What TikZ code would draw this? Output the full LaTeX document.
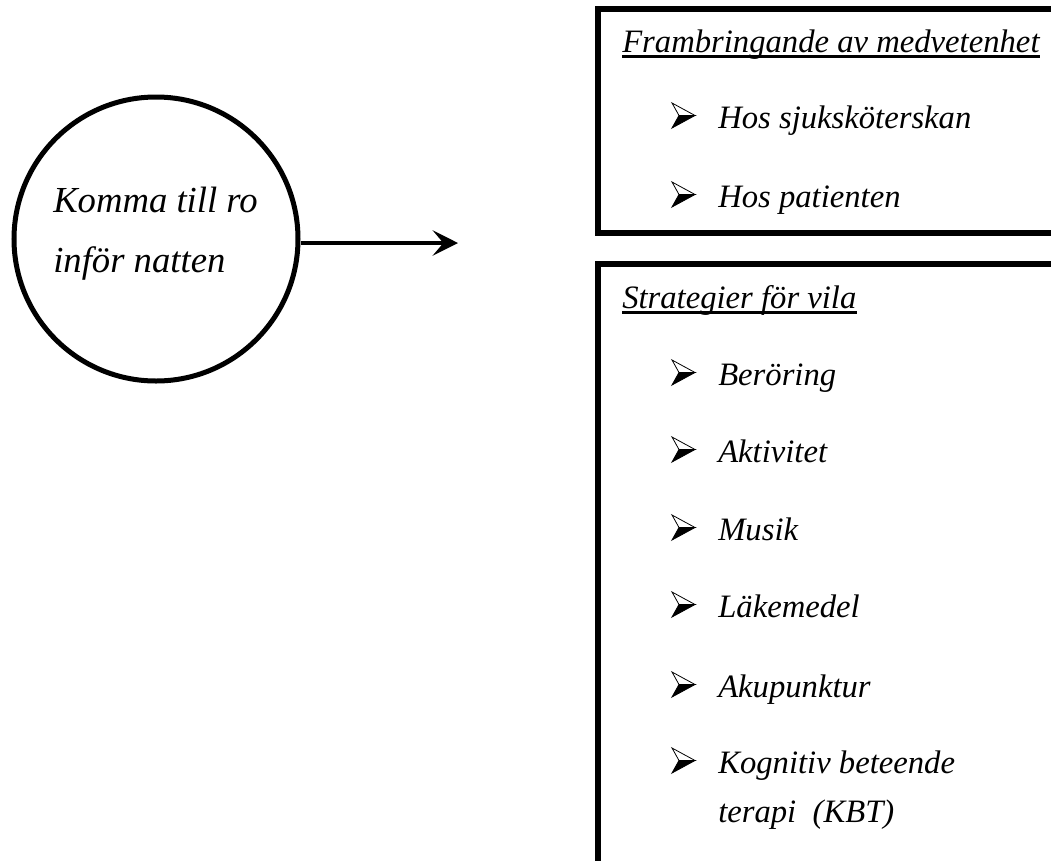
\documentclass[tikz,border=0pt]{standalone}
\usepackage{fontspec}
\setmainfont{Liberation Serif}
\usetikzlibrary{arrows.meta}
\tikzset{
  txt/.style={inner sep=0pt, anchor=base west, font=\fontsize{24.5}{30}\selectfont\itshape},
  ctxt/.style={inner sep=0pt, anchor=base west, font=\fontsize{27.5}{32}\selectfont\itshape},
  frame/.style={draw=black, line width=4.9pt},
  uline/.style={line width=1.6pt},
  pics/bullet/.style={code={
    \filldraw[fill=white, draw=black, line width=0.6pt, line join=miter] (0,-25) -- (23,-12.5) -- (7,-12.5) -- cycle;
    \filldraw[fill=black, draw=black, line width=0.6pt, line join=miter] (0,0) -- (23,-12.5) -- (7,-12.5) -- cycle;
  }}
}
\begin{document}
\begin{tikzpicture}[x=0.75pt,y=-0.75pt]
\useasboundingbox (0,0) rectangle (1051,861);
\clip (0,0) rectangle (1051,861);
% circle
\node[circle, draw, line width=3.75pt, minimum size=284*0.75pt, inner sep=0pt] (circ) at (156,239) {};
\node[ctxt] (ctext1) at (53,212) {Komma till ro};
\node[ctxt] (ctext2) at (53,272) {inför natten};
\coordinate (tip) at (458,243);
\draw[line width=2.3pt, -{Stealth[length=19pt, width=19pt, inset=8pt]}] (tip -| circ.east) -- (tip);
% box 1
\draw[frame] (598,9) rectangle (1110,233);
\node[txt] (t1) at (622,52) {Frambringande av medvetenhet};
\draw[uline] ([yshift=-4.5*0.75pt]t1.base west) -- ([yshift=-4.5*0.75pt]t1.base east);
\pic at (672,128) {bullet};
\node[txt] (i1) at (718,128) {Hos sjuksköterskan};
\pic at (672,207) {bullet};
\node[txt] (i2) at (718,207) {Hos patienten};
% box 2
\draw[frame] (598,264) rectangle (1110,920);
\node[txt] (t2) at (622,308) {Strategier för vila};
\draw[uline] ([yshift=-4.5*0.75pt]t2.base west) -- ([yshift=-4.5*0.75pt]t2.base east);
\pic at (672,385) {bullet};
\node[txt] (i3) at (718,385) {Beröring};
\pic at (672,462) {bullet};
\node[txt] (i4) at (718,462) {Aktivitet};
\pic at (672,540) {bullet};
\node[txt] (i5) at (718,540) {Musik};
\pic at (672,617) {bullet};
\node[txt] (i6) at (718,617) {Läkemedel};
\pic at (672,697) {bullet};
\node[txt] (i7) at (718,697) {Akupunktur};
\pic at (672,773) {bullet};
\node[txt] (i8) at (718,773) {Kognitiv beteende};
\node[txt] (i9) at (718,822) {terapi\ \ (KBT)};
\end{tikzpicture}
\end{document}
